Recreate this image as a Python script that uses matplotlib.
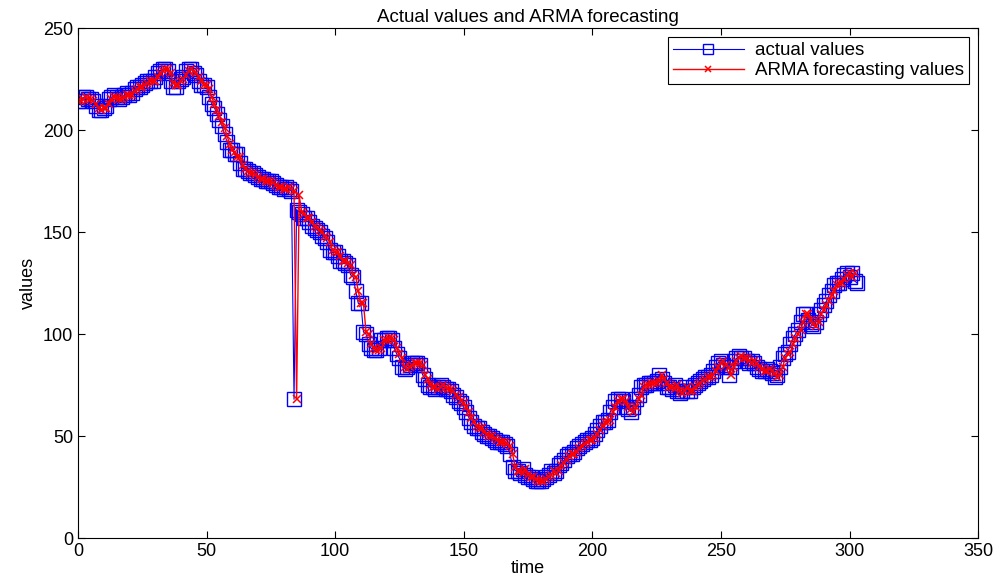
import matplotlib.pyplot as plt
import numpy as np

plt.rcParams['font.family'] = ['Liberation Sans', 'DejaVu Sans']

# observed series, one value per time step
actual = [
    214, 214, 216, 216, 215, 215, 214, 212, 210, 210,
    211, 212, 215, 216, 217, 216, 215, 216, 217, 218,
    217, 218, 220, 221, 221, 222, 223, 224, 224, 224,
    226, 228, 229, 230, 230, 229, 224, 221, 221, 224,
    225, 226, 229, 230, 230, 228, 227, 224, 222, 222,
    221, 216, 213, 211, 208, 205, 202, 198, 194, 190,
    190, 188, 188, 184, 181, 181, 180, 179, 179, 178,
    177, 176, 176, 175, 175, 175, 174, 173, 172, 172,
    171, 172, 171, 170, 68, 161, 160, 159, 157, 157,
    155, 153, 152, 151, 150, 148, 147, 145, 141, 140,
    140, 138, 136, 136, 135, 134, 129, 128, 121, 115,
    115, 101, 100, 95, 93, 92, 92, 93, 97, 97,
    98, 98, 97, 93, 90, 88, 84, 83, 84, 85,
    86, 86, 86, 85, 80, 78, 75, 74, 74, 73,
    74, 75, 74, 73, 73, 72, 70, 69, 67, 66,
    64, 62, 59, 57, 55, 54, 54, 52, 51, 50,
    50, 49, 48, 47, 47, 47, 46, 45, 41, 35,
    33, 33, 32, 34, 31, 30, 30, 29, 28, 28,
    28, 29, 30, 31, 33, 32, 33, 36, 37, 38,
    40, 41, 41, 42, 44, 45, 46, 47, 48, 48,
    49, 51, 53, 55, 57, 57, 58, 62, 64, 67,
    68, 68, 67, 64, 63, 62, 64, 68, 70, 74,
    75, 75, 76, 76, 76, 77, 80, 78, 76, 74,
    74, 73, 75, 72, 71, 72, 74, 72, 72, 74,
    75, 76, 77, 78, 79, 79, 80, 82, 84, 86,
    87, 85, 84, 80, 84, 87, 88, 89, 88, 88,
    87, 86, 87, 86, 84, 83, 82, 82, 83, 82,
    81, 79, 80, 84, 88, 90, 91, 95, 98, 100,
    102, 106, 110, 110, 107, 105, 104, 106, 110, 112,
    114, 116, 119, 121, 124, 125, 125, 127, 129, 130,
    128, 130, 126, 125,
]

# one-step-ahead ARMA forecasts
forecast = [
    214, 214, 215, 216, 215, 215, 214, 213, 211, 210,
    211, 211, 213, 215, 216, 216, 215, 215, 216, 217,
    217, 217, 219, 220, 221, 221, 222, 223, 224, 224,
    224, 226, 228, 229, 230, 230, 228, 223, 222, 222,
    224, 225, 227, 229, 230, 229, 228, 226, 224, 222,
    222, 220, 216, 213, 210, 207, 204, 201, 197, 193,
    190, 189, 187, 187, 183, 181, 180, 179, 179, 178,
    177, 176, 176, 175, 175, 175, 174, 173, 172, 172,
    171, 171, 172, 171, 170, 68, 168, 160, 159, 157,
    157, 155, 153, 152, 151, 150, 148, 147, 145, 141,
    140, 140, 138, 136, 136, 135, 134, 129, 128, 121,
    115, 115, 101, 100, 95, 93, 92, 92, 93, 97,
    97, 98, 98, 97, 93, 90, 88, 84, 83, 84,
    85, 86, 86, 86, 85, 80, 78, 75, 74, 74,
    73, 74, 75, 74, 73, 73, 72, 70, 69, 67,
    66, 64, 62, 59, 57, 55, 54, 54, 52, 51,
    50, 50, 49, 48, 47, 47, 47, 46, 45, 41,
    35, 33, 33, 32, 34, 31, 30, 30, 29, 28,
    28, 28, 29, 30, 31, 33, 32, 33, 36, 37,
    38, 40, 41, 41, 42, 44, 45, 46, 47, 48,
    48, 49, 51, 53, 55, 57, 57, 58, 62, 64,
    67, 68, 68, 67, 64, 63, 62, 64, 68, 70,
    74, 75, 75, 76, 76, 76, 77, 80, 78, 76,
    74, 74, 73, 75, 72, 71, 72, 74, 72, 72,
    74, 75, 76, 77, 78, 79, 79, 80, 82, 84,
    86, 87, 85, 84, 80, 84, 87, 88, 89, 88,
    88, 87, 86, 87, 86, 84, 83, 82, 82, 83,
    82, 81, 79, 80, 84, 88, 90, 91, 95, 98,
    100, 102, 106, 110, 110, 107, 105, 104, 106, 110,
    112, 114, 116, 119, 121, 124, 125, 125, 127, 129,
    130, 128, 130,
]

x_ticks = [0, 50, 100, 150, 200, 250, 300, 350]
y_ticks = [0, 50, 100, 150, 200, 250]

t_actual = np.arange(len(actual))
t_forecast = np.arange(len(forecast))

fig = plt.figure(figsize=(9.95, 5.79), dpi=100)
ax = fig.add_axes([0.0784, 0.0708, 0.9046, 0.8808])

ax.plot(t_actual, actual, color='blue', linewidth=0.8, marker='s',
        markersize=10, markerfacecolor='none', markeredgecolor='blue',
        markeredgewidth=1.0, label='actual values')
ax.plot(t_forecast, forecast, color='red', linewidth=1.0, marker='x',
        markersize=5.5, markeredgewidth=1.1, label='ARMA forecasting values')

ax.set_xlim(0, 350)
ax.set_ylim(0, 250)
ax.set_xticks(x_ticks)
ax.set_yticks(y_ticks)
ax.tick_params(direction='in', top=True, right=True, length=5, labelsize=13)
for s in ax.spines.values():
    s.set_linewidth(0.8)

ax.set_title('Actual values and ARMA forecasting', fontsize=13.5, pad=4)
ax.set_xlabel('time', fontsize=13, labelpad=0)
ax.set_ylabel('values', fontsize=13, labelpad=4)

leg = ax.legend(loc='upper right', fontsize=13.5, fancybox=False, framealpha=1,
                edgecolor='black', borderaxespad=0.5, handlelength=3.8,
                handletextpad=0.6, borderpad=0.25, labelspacing=0.15)
leg.get_frame().set_linewidth(0.8)
leg.legend_handles[0].set_markersize(7)
leg.legend_handles[1].set_markersize(4)

fig.savefig('out.png', dpi=100)
